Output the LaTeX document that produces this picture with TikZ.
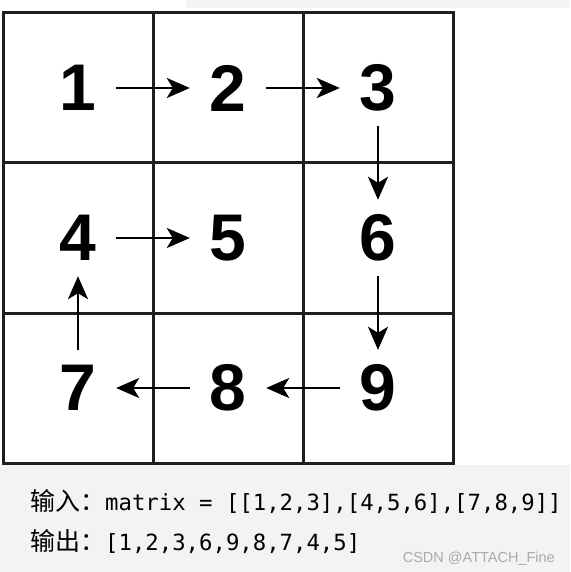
\documentclass[tikz,border=0pt]{standalone}
\usepackage{fontspec}
\usepackage{tikz}
\usetikzlibrary{arrows.meta}
\setmainfont{Liberation Sans}
\setmonofont{DejaVu Sans Mono}
\newfontfamily\cjk{Noto Sans CJK SC}
\definecolor{boxgray}{RGB}{242,243,245}
\definecolor{stripgray}{RGB}{245,245,245}
\definecolor{markgray}{RGB}{170,170,170}

\begin{document}
\begin{tikzpicture}[x=1pt,y=-1pt]
	\tikzstyle{every node}+=[inner sep=0pt]
	\tikzstyle{digit}=[rectangle,minimum size=76pt,font=\fontsize{66}{66}\selectfont\bfseries]
	\tikzstyle{gridline}=[black!88,line width=3pt]
	\tikzstyle{arr}=[black,line width=2.6pt,-{Stealth[length=23pt,width=20pt,inset=6pt]}]
	\useasboundingbox (0,0) rectangle (570,572);
	\fill [stripgray] (186,0) rectangle (570,8);
	\fill [boxgray] (0,465) rectangle (570,572);
	\fill [white] (3,13) rectangle (453,463);
	\draw [gridline] (3,13) rectangle (453,463);
	\draw [gridline] (153,13) -- (153,463);
	\draw [gridline] (303,13) -- (303,463);
	\draw [gridline] (3,163) -- (453,163);
	\draw [gridline] (3,313) -- (453,313);
	\node [digit] (n1) at (78,88) {1};
	\node [digit] (n2) at (228,88) {2};
	\node [digit] (n3) at (378,88) {3};
	\node [digit] (n4) at (78,238) {4};
	\node [digit] (n5) at (228,238) {5};
	\node [digit] (n6) at (378,238) {6};
	\node [digit] (n7) at (78,388) {7};
	\node [digit] (n8) at (228,388) {8};
	\node [digit] (n9) at (378,388) {9};
	\draw [arr] (n1) -- (n2);
	\draw [arr] (n2) -- (n3);
	\draw [arr] (n3) -- (n6);
	\draw [arr] (n6) -- (n9);
	\draw [arr] (n9) -- (n8);
	\draw [arr] (n8) -- (n7);
	\draw [arr] (n7) -- (n4);
	\draw [arr] (n4) -- (n5);
	\node [anchor=base west] (input) at (30,510) {\fontsize{25}{25}\selectfont\cjk 输入：\fontsize{22.3}{22.3}\selectfont\ttfamily matrix = [[1,2,3],[4,5,6],[7,8,9]]};
	\node [anchor=base west] (output) at (30,550) {\fontsize{25}{25}\selectfont\cjk 输出：\fontsize{22.3}{22.3}\selectfont\ttfamily [1,2,3,6,9,8,7,4,5]};
	\node [anchor=base east,text=markgray,font=\fontsize{14.5}{14.5}\selectfont] (mark) at (555,562) {CSDN @ATTACH\_Fine};
\end{tikzpicture}
\end{document}
